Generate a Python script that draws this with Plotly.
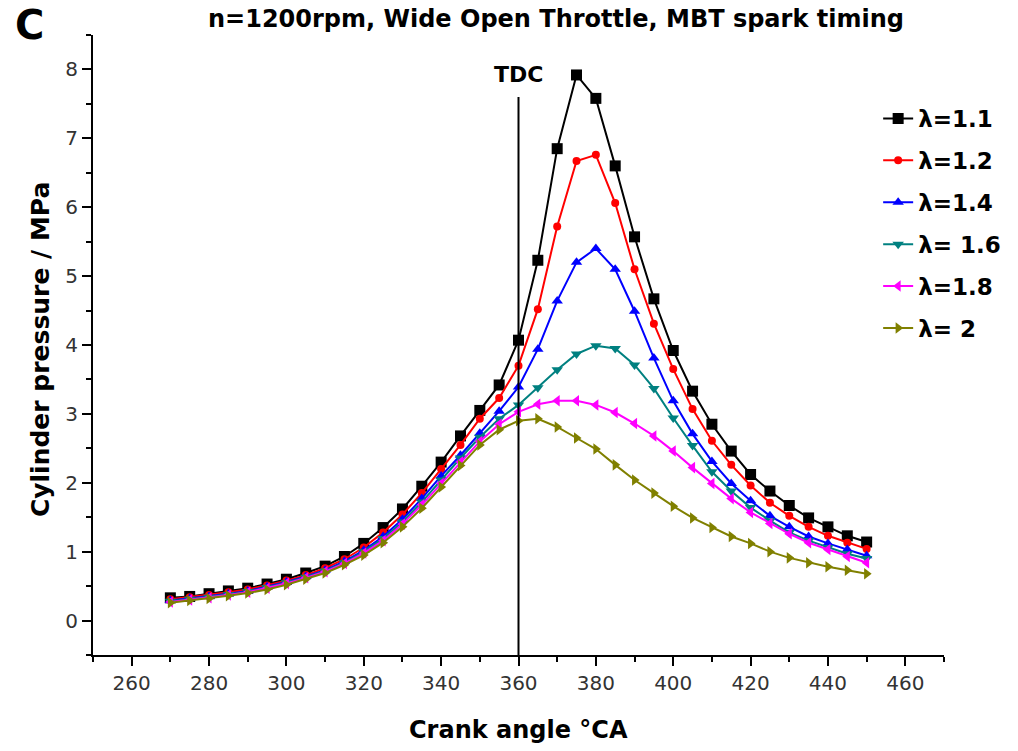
import plotly.graph_objects as go

crank_angle = list(range(270, 451, 5))

p_lambda_1_1 = [0.33, 0.35, 0.39, 0.43, 0.47, 0.53, 0.60, 0.69, 0.79, 0.93, 1.12, 1.35, 1.62, 1.95, 2.30, 2.68, 3.05, 3.42, 4.07, 5.23, 6.85, 7.92, 7.58, 6.60, 5.57, 4.67, 3.92, 3.33, 2.85, 2.46, 2.12, 1.88, 1.67, 1.49, 1.36, 1.23, 1.14]
p_lambda_1_2 = [0.31, 0.34, 0.37, 0.41, 0.45, 0.51, 0.58, 0.66, 0.76, 0.89, 1.06, 1.28, 1.54, 1.85, 2.20, 2.55, 2.93, 3.23, 3.70, 4.52, 5.72, 6.67, 6.76, 6.06, 5.10, 4.31, 3.65, 3.07, 2.61, 2.26, 1.96, 1.71, 1.52, 1.36, 1.23, 1.13, 1.04]
p_lambda_1_4 = [0.29, 0.32, 0.35, 0.39, 0.43, 0.49, 0.56, 0.64, 0.73, 0.86, 1.02, 1.22, 1.47, 1.77, 2.10, 2.40, 2.72, 3.04, 3.39, 3.94, 4.64, 5.20, 5.40, 5.10, 4.49, 3.81, 3.19, 2.71, 2.31, 1.99, 1.74, 1.52, 1.36, 1.22, 1.12, 1.03, 0.94]
p_lambda_1_6 = [0.28, 0.31, 0.34, 0.38, 0.42, 0.48, 0.55, 0.63, 0.72, 0.84, 1.00, 1.19, 1.43, 1.72, 2.04, 2.36, 2.66, 2.93, 3.13, 3.38, 3.64, 3.87, 3.99, 3.95, 3.71, 3.37, 2.94, 2.54, 2.16, 1.88, 1.64, 1.45, 1.28, 1.16, 1.06, 0.97, 0.90]
p_lambda_1_8 = [0.27, 0.30, 0.33, 0.37, 0.41, 0.47, 0.54, 0.62, 0.71, 0.83, 0.98, 1.16, 1.40, 1.68, 1.99, 2.30, 2.60, 2.85, 3.03, 3.14, 3.19, 3.19, 3.13, 3.02, 2.86, 2.68, 2.46, 2.22, 1.99, 1.77, 1.57, 1.41, 1.26, 1.13, 1.03, 0.93, 0.84]
p_lambda_2_0 = [0.26, 0.29, 0.32, 0.36, 0.40, 0.45, 0.52, 0.60, 0.69, 0.81, 0.95, 1.13, 1.36, 1.63, 1.94, 2.25, 2.55, 2.77, 2.90, 2.93, 2.81, 2.65, 2.49, 2.26, 2.04, 1.85, 1.66, 1.49, 1.35, 1.22, 1.12, 1.00, 0.91, 0.84, 0.78, 0.73, 0.68]

series_names = ["λ=1.1", "λ=1.2", "λ=1.4", "λ= 1.6", "λ=1.8", "λ= 2"]
series_values = [p_lambda_1_1, p_lambda_1_2, p_lambda_1_4, p_lambda_1_6, p_lambda_1_8, p_lambda_2_0]

colors = ["#000000", "#FF0000", "#0000FF", "#008080", "#FF00FF", "#808000"]
symbols = ["square", "circle", "triangle-up", "triangle-down", "triangle-left", "triangle-right"]
sizes = [11, 8, 10, 10, 10, 10]

FONT = "DejaVu Sans, Verdana, sans-serif"

# plot area geometry (px) used to place paper-referenced text
L, R, T, B = 93, 72, 35, 96
PW, PH = 1018 - L - R, 751 - T - B


def px_to_paper(xp, yp):
    return (xp - L) / PW, (751 - B - yp) / PH


fig = go.Figure()
for i, (name, vals) in enumerate(zip(series_names, series_values)):
    fig.add_trace(go.Scatter(
        x=crank_angle, y=vals, name=name, mode="lines+markers",
        line=dict(color=colors[i], width=2),
        marker=dict(symbol=symbols[i], size=sizes[i], color=colors[i]),
        legendgroup=f"g{i}",
    ))

# TDC line
fig.add_shape(type="line", xref="x", yref="y", x0=360, x1=360, y0=-0.65, y1=7.6,
              line=dict(color="black", width=2))
fig.add_annotation(x=360, y=7.92, xref="x", yref="y", text="<b>TDC</b>", showarrow=False,
                   font=dict(family=FONT, size=22, color="black"))

cx, cy = px_to_paper(29, 25)
fig.add_annotation(x=cx, y=cy, xref="paper", yref="paper", text="<b>C</b>",
                   showarrow=False, font=dict(family=FONT, size=40, color="black"),
                   xanchor="center", yanchor="middle")
tx, ty = px_to_paper(557, 19)
fig.add_annotation(x=tx, y=ty, xref="paper", yref="paper",
                   text="<b>n=1200rpm, Wide Open Throttle, MBT spark timing</b>",
                   showarrow=False, font=dict(family=FONT, size=24, color="black"),
                   xanchor="center", yanchor="middle")

# axis titles
xtx, xty = px_to_paper(519, 730)
fig.add_annotation(x=xtx, y=xty, xref="paper", yref="paper", text="<b>Crank angle °CA</b>",
                   showarrow=False, font=dict(family=FONT, size=24, color="black"),
                   xanchor="center", yanchor="middle")
ytx, yty = px_to_paper(40, 350)
fig.add_annotation(x=ytx, y=yty, xref="paper", yref="paper", text="<b>Cylinder pressure / MPa</b>",
                   showarrow=False, textangle=-90, font=dict(family=FONT, size=25, color="black"),
                   xanchor="center", yanchor="middle")

lx, ly = px_to_paper(880, 97)

fig.update_layout(
    width=1018, height=751,
    margin=dict(l=L, r=R, t=T, b=B),
    paper_bgcolor="white", plot_bgcolor="white",
    font=dict(family=FONT, color="black"),
    showlegend=True,
    legend=dict(x=lx, y=ly, xanchor="left", yanchor="top",
                font=dict(family=FONT, size=23, color="black", weight="bold"),
                bgcolor="rgba(0,0,0,0)", tracegroupgap=9, traceorder="grouped"),
    xaxis=dict(
        range=[250, 470], tickmode="linear", tick0=260, dtick=20,
        showgrid=False, zeroline=False, showline=True, linecolor="black", linewidth=2,
        ticks="outside", ticklen=9, tickwidth=2, tickcolor="black",
        minor=dict(tickmode="linear", tick0=250, dtick=10, ticks="outside", ticklen=5, tickwidth=2, tickcolor="black"),
        tickfont=dict(family=FONT, size=20, color="#333333"),
    ),
    yaxis=dict(
        range=[-0.5, 8.5], tickmode="linear", tick0=0, dtick=1,
        showgrid=False, zeroline=False, showline=True, linecolor="black", linewidth=2,
        ticks="outside", ticklen=9, tickwidth=2, tickcolor="black",
        minor=dict(tickmode="linear", tick0=0.5, dtick=1, ticks="outside", ticklen=5, tickwidth=2, tickcolor="black"),
        tickfont=dict(family=FONT, size=20, color="#333333"),
    ),
)

fig.write_html("out.html")
